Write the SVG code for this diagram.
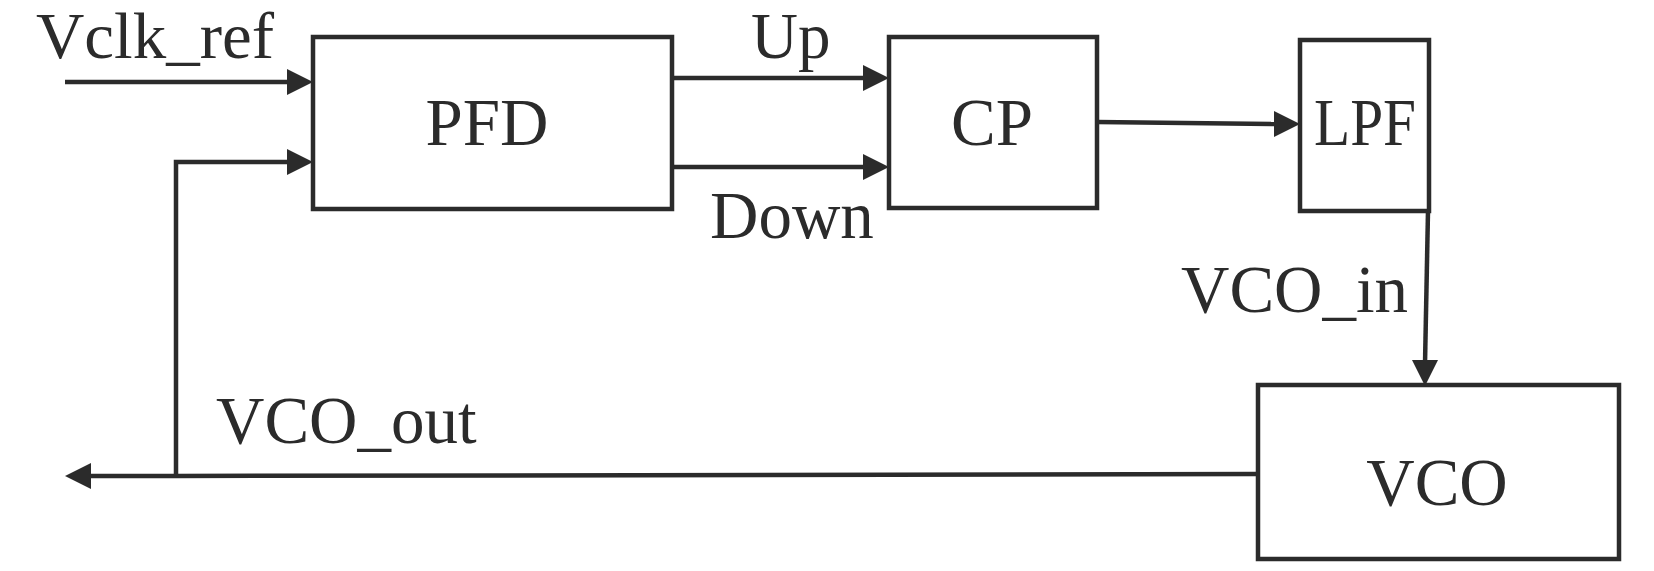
<svg xmlns="http://www.w3.org/2000/svg" width="1654" height="571" viewBox="0 0 1654 571">
<style>
.box{fill:#fff;stroke:#2b2b2b;stroke-width:4.5}
.ln{fill:none;stroke:#2b2b2b;stroke-width:4.5}
.ah{fill:#2b2b2b}
text{font-family:"Liberation Serif","Times New Roman",serif;font-size:67px;fill:#2b2b2b}
.top{font-size:65px}
.c{text-anchor:middle}
</style>
<rect width="1654" height="571" fill="#fff"/>
<g id="connectors">
<line class="ln" x1="65" y1="82" x2="290" y2="82"/>
<polygon class="ah" points="313,82 287,69 287,95"/>
<line class="ln" x1="672" y1="78" x2="867" y2="78"/>
<polygon class="ah" points="889,78 863,65 863,91"/>
<line class="ln" x1="672" y1="167" x2="867" y2="167"/>
<polygon class="ah" points="889,167 863,154 863,180"/>
<line class="ln" x1="1097" y1="122" x2="1278" y2="124"/>
<polygon class="ah" points="1300,124 1274,111 1274,137"/>
<line class="ln" x1="1428" y1="211" x2="1425" y2="364"/>
<polygon class="ah" points="1425,386 1412,360 1438,360"/>
<polyline class="ln" points="1258,474 176,476 88,476"/>
<polygon class="ah" points="65,476 91,463 91,489"/>
<polyline class="ln" points="176,476 176,162 290,162"/>
<polygon class="ah" points="313,162 287,149 287,175"/>
<text class="top" x="36" y="58" textLength="238" lengthAdjust="spacingAndGlyphs">Vclk_ref</text>
<text class="top" x="751" y="58">Up</text>
<text x="710" y="238">Down</text>
<text x="1181" y="312">VCO_in</text>
<text x="216" y="443">VCO_out</text>
</g>
<g id="PFD"><rect class="box" x="313" y="37" width="359" height="172"/><text class="c" x="487" y="145">PFD</text></g>
<g id="CP"><rect class="box" x="889" y="37" width="208" height="171"/><text class="c" x="992" y="145">CP</text></g>
<g id="LPF"><rect class="box" x="1300" y="40" width="129" height="171"/><text class="c" x="1365" y="145" textLength="102" lengthAdjust="spacingAndGlyphs">LPF</text></g>
<g id="VCO"><rect class="box" x="1258" y="385" width="361" height="174"/><text class="c" x="1437" y="505">VCO</text></g>
</svg>
